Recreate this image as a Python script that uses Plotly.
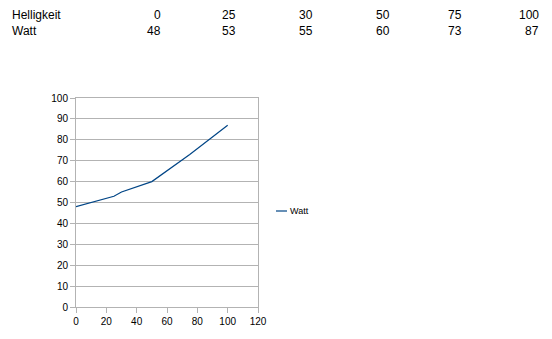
import plotly.graph_objects as go

helligkeit = [0, 25, 30, 50, 75, 100]
watt = [48, 53, 55, 60, 73, 87]
row_labels = ["Helligkeit", "Watt"]
series_name = "Watt"

W, H = 552, 339
L, R, T, B = 76, 294, 98, 32
pw, ph = W - L - R, H - T - B

def px(x):
    return (x - L) / pw

def py(y):
    return (H - B - y) / ph

fig = go.Figure()
fig.add_trace(go.Scatter(x=helligkeit, y=watt, mode="lines", name=series_name,
                         line=dict(color="#004586", width=1.2), showlegend=False))

font = "Liberation Sans, Arial, sans-serif"
ann = []
# table at top
col_right = [163, 238, 315, 392, 464, 541]
for r, (lab, vals) in enumerate(zip(row_labels, [helligkeit, watt])):
    yy = py(15 + 16 * r)
    ann.append(dict(x=px(10), y=yy, xref="paper", yref="paper", text=lab, showarrow=False,
                    xanchor="left", yanchor="middle", font=dict(family=font, size=12, color="black")))
    for c, v in enumerate(vals):
        ann.append(dict(x=px(col_right[c]), y=yy, xref="paper", yref="paper", text=str(v),
                        showarrow=False, xanchor="right", yanchor="middle",
                        font=dict(family=font, size=12, color="black")))
# legend
ann.append(dict(x=px(288), y=py(211), xref="paper", yref="paper", text=series_name, showarrow=False,
                xanchor="left", yanchor="middle", font=dict(family=font, size=9, color="black")))

fig.update_layout(
    width=W, height=H,
    margin=dict(l=L, r=R, t=T, b=B),
    paper_bgcolor="white", plot_bgcolor="white",
    annotations=ann,
    shapes=[dict(type="line", xref="paper", yref="paper", x0=px(276), x1=px(287),
                 y0=py(211), y1=py(211), line=dict(color="#004586", width=1.2))],
    xaxis=dict(range=[0, 120], dtick=20, showgrid=False, zeroline=False,
               showline=True, linecolor="#b3b3b3", linewidth=1, mirror=True,
               ticks="outside", ticklen=5, tickcolor="#b3b3b3",
               tickfont=dict(family=font, size=10, color="black")),
    yaxis=dict(range=[0, 100], dtick=10, showgrid=True, gridcolor="#b3b3b3", gridwidth=1,
               zeroline=False, showline=True, linecolor="#b3b3b3", linewidth=1, mirror=True,
               ticks="outside", ticklen=5, tickcolor="#b3b3b3",
               tickfont=dict(family=font, size=10, color="black")),
    showlegend=False,
)

fig.write_html("out.html")
